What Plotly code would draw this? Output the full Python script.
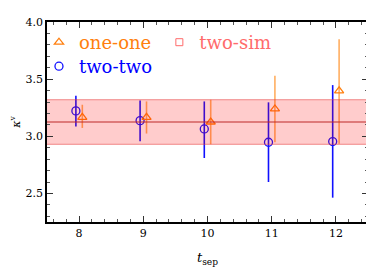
import plotly.graph_objects as go

t_sep = [8, 9, 10, 11, 12]
offset = 0.05

two_two = [3.222, 3.137, 3.064, 2.948, 2.954]
two_two_hi = [3.355, 3.314, 3.305, 3.297, 3.448]
two_two_lo = [3.085, 2.957, 2.810, 2.600, 2.463]

one_one = [3.165, 3.165, 3.125, 3.239, 3.398]
one_one_hi = [3.276, 3.305, 3.320, 3.530, 3.849]
one_one_lo = [3.073, 3.024, 2.930, 2.948, 2.934]

two_sim_center = 3.125
two_sim_err = 0.195
x_range = [7.5, 12.5]

serif = "DejaVu Serif"
c_blue = "#1010ff"
c_orange = "#ff7f0e"
c_red = "#ff6b6b"

fig = go.Figure()

# two-two (blue circles)
fig.add_trace(go.Scatter(
    x=[t - offset for t in t_sep], y=two_two, mode="markers", name="two-two",
    legend="legend3",
    marker=dict(symbol="circle-open", size=8, color=c_blue, line=dict(width=1.3)),
    error_y=dict(type="data", symmetric=False,
                 array=[h - v for h, v in zip(two_two_hi, two_two)],
                 arrayminus=[v - l for v, l in zip(two_two, two_two_lo)],
                 color=c_blue, thickness=1.6, width=0),
))

# one-one (orange triangles)
fig.add_trace(go.Scatter(
    x=[t + offset for t in t_sep], y=one_one, mode="markers", name="one-one",
    legend="legend",
    marker=dict(symbol="triangle-up-open", size=8, color=c_orange, line=dict(width=1.3)),
    error_y=dict(type="data", symmetric=False,
                 array=[h - v for h, v in zip(one_one_hi, one_one)],
                 arrayminus=[v - l for v, l in zip(one_one, one_one_lo)],
                 color="rgba(255,140,30,0.7)", thickness=1.6, width=0),
))

# two-sim band (drawn on top)
lo = two_sim_center - two_sim_err
hi = two_sim_center + two_sim_err
fig.add_trace(go.Scatter(
    x=x_range, y=[lo, lo], mode="lines", showlegend=False,
    line=dict(color="rgba(230,60,60,0.45)", width=1.2),
))
fig.add_trace(go.Scatter(
    x=x_range, y=[hi, hi], mode="lines", showlegend=False, fill="tonexty",
    fillcolor="rgba(255,0,0,0.2)",
    line=dict(color="rgba(230,60,60,0.45)", width=1.2),
))
fig.add_trace(go.Scatter(
    x=x_range, y=[two_sim_center, two_sim_center], mode="lines", showlegend=False,
    line=dict(color="rgba(190,40,40,0.5)", width=2),
))
fig.add_trace(go.Scatter(
    x=[None], y=[None], mode="markers", name="two-sim", legend="legend2",
    marker=dict(symbol="square-open", size=7, color=c_red, line=dict(width=1)),
))

axis_common = dict(
    showgrid=False, zeroline=False, showline=True, linecolor="black", linewidth=1.5,
    mirror="allticks", ticks="inside", ticklen=6, tickwidth=1, tickcolor="#333",
    tickfont=dict(family=serif, size=11, color="black"),
)

legend_common = dict(xanchor="left", yanchor="top", bgcolor="rgba(0,0,0,0)", itemwidth=30)

fig.update_layout(
    width=366, height=264,
    margin=dict(l=39, r=4, t=14, b=50),
    paper_bgcolor="white", plot_bgcolor="white",
    font=dict(family=serif, color="black"),
    xaxis=dict(range=x_range, dtick=1, tick0=8,
               minor=dict(dtick=0.2, ticks="inside", ticklen=3, tickcolor="#555"),
               title=dict(text="<i>t</i><sub>sep</sub>", font=dict(family=serif, size=13), standoff=14),
               **axis_common),
    yaxis=dict(range=[2.25, 4.0], dtick=0.5, tick0=2.5, tickformat=".1f",
               minor=dict(dtick=0.1, ticks="inside", ticklen=3, tickcolor="#555"),
               title=dict(text="<i>κ</i><sup>v</sup>", font=dict(family=serif, size=11), standoff=5),
               **axis_common),
    legend=dict(x=-0.025, y=0.99, font=dict(family=serif, size=18, color=c_orange), **legend_common),
    legend3=dict(x=-0.025, y=0.87, font=dict(family=serif, size=18, color="#0000ff"), **legend_common),
    legend2=dict(x=0.35, y=0.99, font=dict(family=serif, size=18, color=c_red), **legend_common),
)

fig.write_html("out.html")
